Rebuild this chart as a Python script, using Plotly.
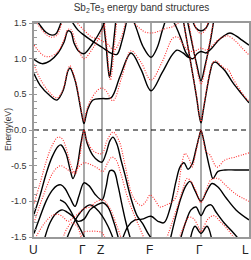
import plotly.graph_objects as go

# k-path positions (arbitrary path-length units) and labels
kpoint_pos = [34, 84, 102, 151, 201, 249]
kpoint_labels = ["U", "Γ", "Z", "F", "Γ", "L"]

# ---- black solid bands (k, E in eV) ----
b1_k = [36, 40, 46, 52, 56, 59, 62]
b1_e = [1.56, 1.47, 1.37, 1.33, 1.35, 1.43, 1.55]
b2_k = [34, 42, 50, 58, 64, 68, 71, 74, 79, 84, 93, 102, 106]
b2_e = [0.99, 0.93, 0.97, 1.08, 1.23, 1.39, 1.37, 1.22, 1.10, 1.07, 1.22, 1.43, 1.56]
b3_k = [72, 78, 84, 92, 102, 112, 117, 122, 127]
b3_e = [1.52, 1.40, 1.33, 1.25, 1.16, 1.07, 1.06, 1.25, 1.55]
b4_k = [34, 40, 50, 57, 63, 68, 70, 75, 80, 82, 84, 86, 88, 93, 102, 111, 120, 131, 141, 151, 162, 172, 177, 183, 188, 193, 197, 201, 206, 212, 218, 224, 230, 236, 242, 249]
b4_e = [0.79, 0.63, 0.48, 0.42, 0.55, 0.83, 0.87, 0.70, 0.35, 0.20, 0.09, 0.20, 0.30, 0.42, 0.44, 0.45, 0.75, 1.08, 0.85, 0.55, 0.80, 1.05, 1.12, 1.08, 1.02, 1.00, 1.07, 1.10, 1.08, 1.15, 1.25, 1.32, 1.36, 1.32, 1.26, 1.19]
b5_k = [103, 106, 108, 109.5, 111, 113, 116]
b5_e = [1.56, 1.20, 0.88, 0.74, 0.86, 1.15, 1.56]
b6_k = [133, 137, 143, 151, 157, 162, 166]
b6_e = [1.56, 1.40, 1.17, 1.02, 1.15, 1.38, 1.56]
b7_k = [172, 176, 181, 186, 190]
b7_e = [1.56, 1.45, 1.28, 1.08, 1.01]
b8_k = [183, 188, 193, 197, 199, 201, 203, 206, 210, 213, 216, 220, 225, 233, 242, 249]
b8_e = [1.56, 1.16, 0.76, 0.42, 0.22, 0.10, 0.25, 0.50, 0.80, 0.94, 0.95, 0.90, 0.83, 0.66, 0.50, 0.38]
b9_k = [187, 192, 197, 201, 205, 210, 214]
b9_e = [1.56, 1.22, 0.90, 0.69, 0.90, 1.22, 1.56]
b10_k = [192, 196, 201, 206, 210]
b10_e = [1.56, 1.43, 1.39, 1.43, 1.56]
# valence
v1_k = [34, 40, 46, 52, 58, 61, 66, 70, 73, 77, 81, 84, 87, 93, 98, 102, 106, 110, 113, 117, 121, 125, 131, 137, 143, 148, 153]
v1_e = [-1.18, -0.92, -0.62, -0.38, -0.23, -0.21, -0.33, -0.55, -0.68, -0.52, -0.18, 0.0, -0.18, -0.36, -0.43, -0.45, -0.33, -0.15, -0.10, -0.20, -0.42, -0.63, -0.96, -1.20, -1.32, -1.45, -1.55]
v1b_k = [122, 128, 135, 142, 151, 158, 164, 170, 176, 180, 184, 188, 192, 196, 199, 201, 203, 206, 210, 213, 218, 225, 235, 249]
v1b_e = [-1.55, -1.35, -1.26, -1.25, -1.21, -1.28, -1.30, -1.10, -0.72, -0.52, -0.46, -0.55, -0.48, -0.27, -0.10, -0.01, -0.10, -0.30, -0.55, -0.68, -0.58, -0.56, -0.56, -0.56]
v2_k = [34, 40, 46, 52, 57, 61, 65, 70, 75, 79, 84, 89, 95, 102, 106, 110, 114, 118, 122, 126, 131]
v2_e = [-1.45, -1.22, -1.0, -0.85, -0.78, -0.77, -0.82, -0.95, -1.07, -0.92, -0.74, -0.78, -0.90, -0.98, -0.80, -0.57, -0.58, -0.78, -1.05, -1.30, -1.55]
v3_k = [44, 50, 56, 62, 67, 72, 78, 84, 90, 97, 103, 108, 114, 119]
v3_e = [-1.55, -1.30, -1.17, -1.12, -1.15, -1.20, -1.28, -1.25, -1.12, -1.05, -1.02, -1.08, -1.30, -1.55]
v4_k = [60, 65, 70, 75, 80, 86]
v4_e = [-0.98, -1.02, -1.12, -1.25, -1.38, -1.55]
v5_k = [66, 72, 78, 84, 90, 96, 102, 108, 114]
v5_e = [-1.55, -1.35, -1.20, -1.10, -1.05, -1.10, -1.20, -1.35, -1.55]
v9_k = [170, 176, 181, 186, 190, 195, 201, 207, 212, 218, 226, 236, 249]
v9_e = [-1.55, -1.20, -0.95, -0.78, -0.72, -0.85, -1.00, -0.85, -0.75, -0.80, -0.95, -1.12, -1.26]
v10_k = [180, 186, 191, 196, 201, 206, 211, 216, 224, 232, 240]
v10_e = [-1.55, -1.28, -1.12, -1.08, -1.20, -1.08, -1.05, -1.15, -1.30, -1.42, -1.55]
v11_k = [190, 195, 201, 207, 212]
v11_e = [-1.55, -1.35, -1.45, -1.35, -1.55]

# ---- red dotted bands ----
r1_k = [34, 40, 46, 52, 57, 60, 63]
r1_e = [1.55, 1.44, 1.34, 1.30, 1.33, 1.42, 1.55]
r2_k = [34, 38, 44, 50, 58, 64, 68, 71, 75, 80, 84, 93, 102, 106]
r2_e = [1.19, 1.12, 1.04, 1.03, 1.10, 1.27, 1.41, 1.41, 1.25, 1.08, 1.00, 1.15, 1.38, 1.55]
r3_k = [74, 84, 92, 98, 102, 108, 114, 120, 126]
r3_e = [1.55, 1.40, 1.30, 1.28, 1.25, 1.20, 1.12, 1.25, 1.55]
r4_k = [34, 40, 50, 57, 63, 68, 70, 75, 80, 82, 84, 86, 90, 97, 102, 106, 113, 122, 131, 141, 151, 162, 173, 178, 183, 188, 193, 197, 201, 206, 212, 218, 224, 228, 236, 242, 249]
r4_e = [0.92, 0.72, 0.52, 0.45, 0.57, 0.85, 0.90, 0.72, 0.38, 0.22, 0.12, 0.24, 0.40, 0.55, 0.59, 0.55, 0.41, 0.75, 1.11, 0.95, 0.70, 0.95, 1.29, 1.30, 1.20, 1.12, 1.10, 1.12, 1.15, 1.12, 1.18, 1.26, 1.31, 1.32, 1.24, 1.15, 1.05]
r5_k = [104, 107, 109, 110.5, 112, 114, 117]
r5_e = [1.56, 1.15, 0.82, 0.70, 0.82, 1.12, 1.56]
r6_k = [130, 137, 144, 151, 158, 165, 173, 180]
r6_e = [1.56, 1.46, 1.38, 1.36, 1.38, 1.42, 1.45, 1.52]
r8_k = [183, 188, 193, 197, 199, 201, 203, 206, 210, 213, 216, 220, 225, 228, 233, 242, 249]
r8_e = [1.56, 1.16, 0.76, 0.44, 0.24, 0.12, 0.27, 0.52, 0.82, 0.95, 0.97, 0.92, 0.86, 0.85, 0.72, 0.52, 0.40]
r9_k = [188, 193, 197, 201, 205, 209, 214]
r9_e = [1.56, 1.18, 0.85, 0.64, 0.85, 1.18, 1.56]
r10_k = [193, 197, 201, 205, 209]
r10_e = [1.56, 1.40, 1.35, 1.40, 1.56]
rv1_k = [34, 40, 46, 52, 58, 62, 66, 70, 75, 80, 82, 84, 86, 88, 94, 102, 107, 113, 119, 125, 131, 135, 141, 146, 150, 155, 160, 166, 173, 177, 181, 185, 189, 192, 196, 199, 201, 203, 206, 210, 217, 225, 235, 249]
rv1_e = [-1.03, -0.75, -0.45, -0.22, -0.10, -0.12, -0.25, -0.45, -0.62, -0.35, -0.15, 0.0, -0.12, -0.18, -0.30, -0.33, -0.15, -0.03, -0.15, -0.49, -0.87, -0.98, -1.06, -1.0, -0.91, -0.98, -1.08, -1.05, -1.0, -0.90, -0.55, -0.33, -0.40, -0.52, -0.30, -0.10, 0.0, -0.12, -0.30, -0.35, -0.52, -0.42, -0.38, -0.32]
rv2_k = [34, 40, 46, 52, 57, 61, 67, 73, 78, 84, 90, 97, 103, 108, 112, 116, 121, 127, 133, 139, 145]
rv2_e = [-1.30, -1.05, -0.82, -0.62, -0.53, -0.50, -0.55, -0.60, -0.53, -0.46, -0.48, -0.53, -0.58, -0.45, -0.38, -0.42, -0.62, -0.92, -1.15, -1.35, -1.55]
rv3_k = [34, 40, 46, 52, 58, 63, 68, 74, 80, 84, 90, 97, 103, 110, 117, 122]
rv3_e = [-1.55, -1.40, -1.28, -1.20, -1.18, -1.22, -1.28, -1.22, -1.15, -1.10, -1.08, -1.00, -0.98, -1.10, -1.35, -1.55]
rv4_k = [80, 84, 90, 96, 102, 106]
rv4_e = [-1.55, -1.43, -1.42, -1.42, -1.44, -1.55]
rv5_k = [62, 67, 72, 77, 82]
rv5_e = [-1.55, -1.38, -1.30, -1.35, -1.55]
rv9_k = [166, 172, 178, 183, 187, 191, 196, 201, 206, 211, 218, 226, 236, 249]
rv9_e = [-1.55, -1.30, -1.05, -0.82, -0.68, -0.72, -0.85, -1.02, -0.85, -0.70, -0.68, -0.78, -0.90, -1.00]
rv10_k = [178, 184, 189, 194, 199, 201, 203, 208, 214, 220, 228, 236]
rv10_e = [-1.55, -1.35, -1.22, -1.25, -1.38, -1.43, -1.38, -1.25, -1.20, -1.28, -1.40, -1.55]

black_bands = [(b1_k, b1_e), (b2_k, b2_e), (b3_k, b3_e), (b4_k, b4_e), (b5_k, b5_e),
               (b6_k, b6_e), (b7_k, b7_e), (b8_k, b8_e), (b9_k, b9_e), (b10_k, b10_e),
               (v1_k, v1_e), (v1b_k, v1b_e), (v2_k, v2_e), (v3_k, v3_e), (v4_k, v4_e),
               (v5_k, v5_e), (v9_k, v9_e), (v10_k, v10_e), (v11_k, v11_e)]
red_bands = [(r1_k, r1_e), (r2_k, r2_e), (r3_k, r3_e), (r4_k, r4_e), (r5_k, r5_e),
             (r6_k, r6_e), (r8_k, r8_e), (r9_k, r9_e), (r10_k, r10_e),
             (rv1_k, rv1_e), (rv2_k, rv2_e), (rv3_k, rv3_e), (rv4_k, rv4_e),
             (rv5_k, rv5_e), (rv9_k, rv9_e), (rv10_k, rv10_e)]

fig = go.Figure()

# high-symmetry vertical lines
for kp in kpoint_pos[1:-1]:
    fig.add_shape(type="line", x0=kp, x1=kp, y0=0, y1=1, xref="x", yref="paper",
                  line=dict(color="#8c8c8c", width=1.5), layer="below")
# Fermi level
fig.add_shape(type="line", x0=0, x1=1, y0=0, y1=0, xref="paper", yref="y",
              line=dict(color="black", width=1, dash="5px,4px"), layer="below")

for k, e in black_bands:
    fig.add_trace(go.Scatter(x=k, y=e, mode="lines", line=dict(color="black", width=1.4, shape="spline", smoothing=1.0),
                             hoverinfo="skip", showlegend=False))
for k, e in red_bands:
    fig.add_trace(go.Scatter(x=k, y=e, mode="lines", line=dict(color="#ff2a2a", width=1.1, dash="1px,1.5px", shape="spline", smoothing=1.0),
                             hoverinfo="skip", showlegend=False))

# k-point labels below the axis
label_shift = [-1, -2, -2, -2, -2, -4]
for kp, lab, sh in zip(kpoint_pos, kpoint_labels, label_shift):
    fig.add_annotation(text=lab, x=kp, xref="x", y=-13 / 214, yref="paper", showarrow=False,
                       xanchor="center", yanchor="middle", xshift=sh,
                       font=dict(size=12, color="#222"))

fig.update_layout(
    width=251, height=260,
    margin=dict(l=34, r=2, t=23, b=23, autoexpand=False),
    paper_bgcolor="white", plot_bgcolor="white",
    font=dict(family="Liberation Sans, Arial, sans-serif", color="#333"),
    title=dict(text="Sb<sub>2</sub>Te<sub>3</sub> energy band structures", x=0.5, xref="paper",
               y=0.972, yref="container", yanchor="middle", font=dict(size=10, color="#333")),
    xaxis=dict(range=[kpoint_pos[0], kpoint_pos[-1]], tickvals=kpoint_pos, showticklabels=False,
               ticks="", showgrid=False, zeroline=False, showline=True, linecolor="#999", linewidth=1.5,
               mirror=True, automargin=False),
    yaxis=dict(range=[-1.5, 1.5], tickvals=[-1.5, -1.0, -0.5, 0.0, 0.5, 1.0, 1.5],
               ticktext=["-1.5", "-1.0", "-0.5", "0.0", "0.5", "1.0", "1.5"],
               ticks="outside", ticklen=3, tickcolor="#999", showgrid=False, zeroline=False,
               showline=True, linecolor="#999", linewidth=1.5, mirror=True, automargin=False,
               tickfont=dict(size=9, color="#333"), ticklabelstandoff=1,
               minor=dict(dtick=0.1, ticks="inside", ticklen=3, tickcolor="#999")),
)
fig.add_annotation(text="Energy(eV)", xref="paper", yref="paper", x=-26 / 215, y=0.5,
                   textangle=-90, showarrow=False, font=dict(size=8.5, color="#333"),
                   xanchor="center", yanchor="middle")

fig.write_html("out.html", config={"displayModeBar": False},
               post_script="document.body.style.margin='0';document.body.style.padding='0';document.body.style.overflow='hidden';")
